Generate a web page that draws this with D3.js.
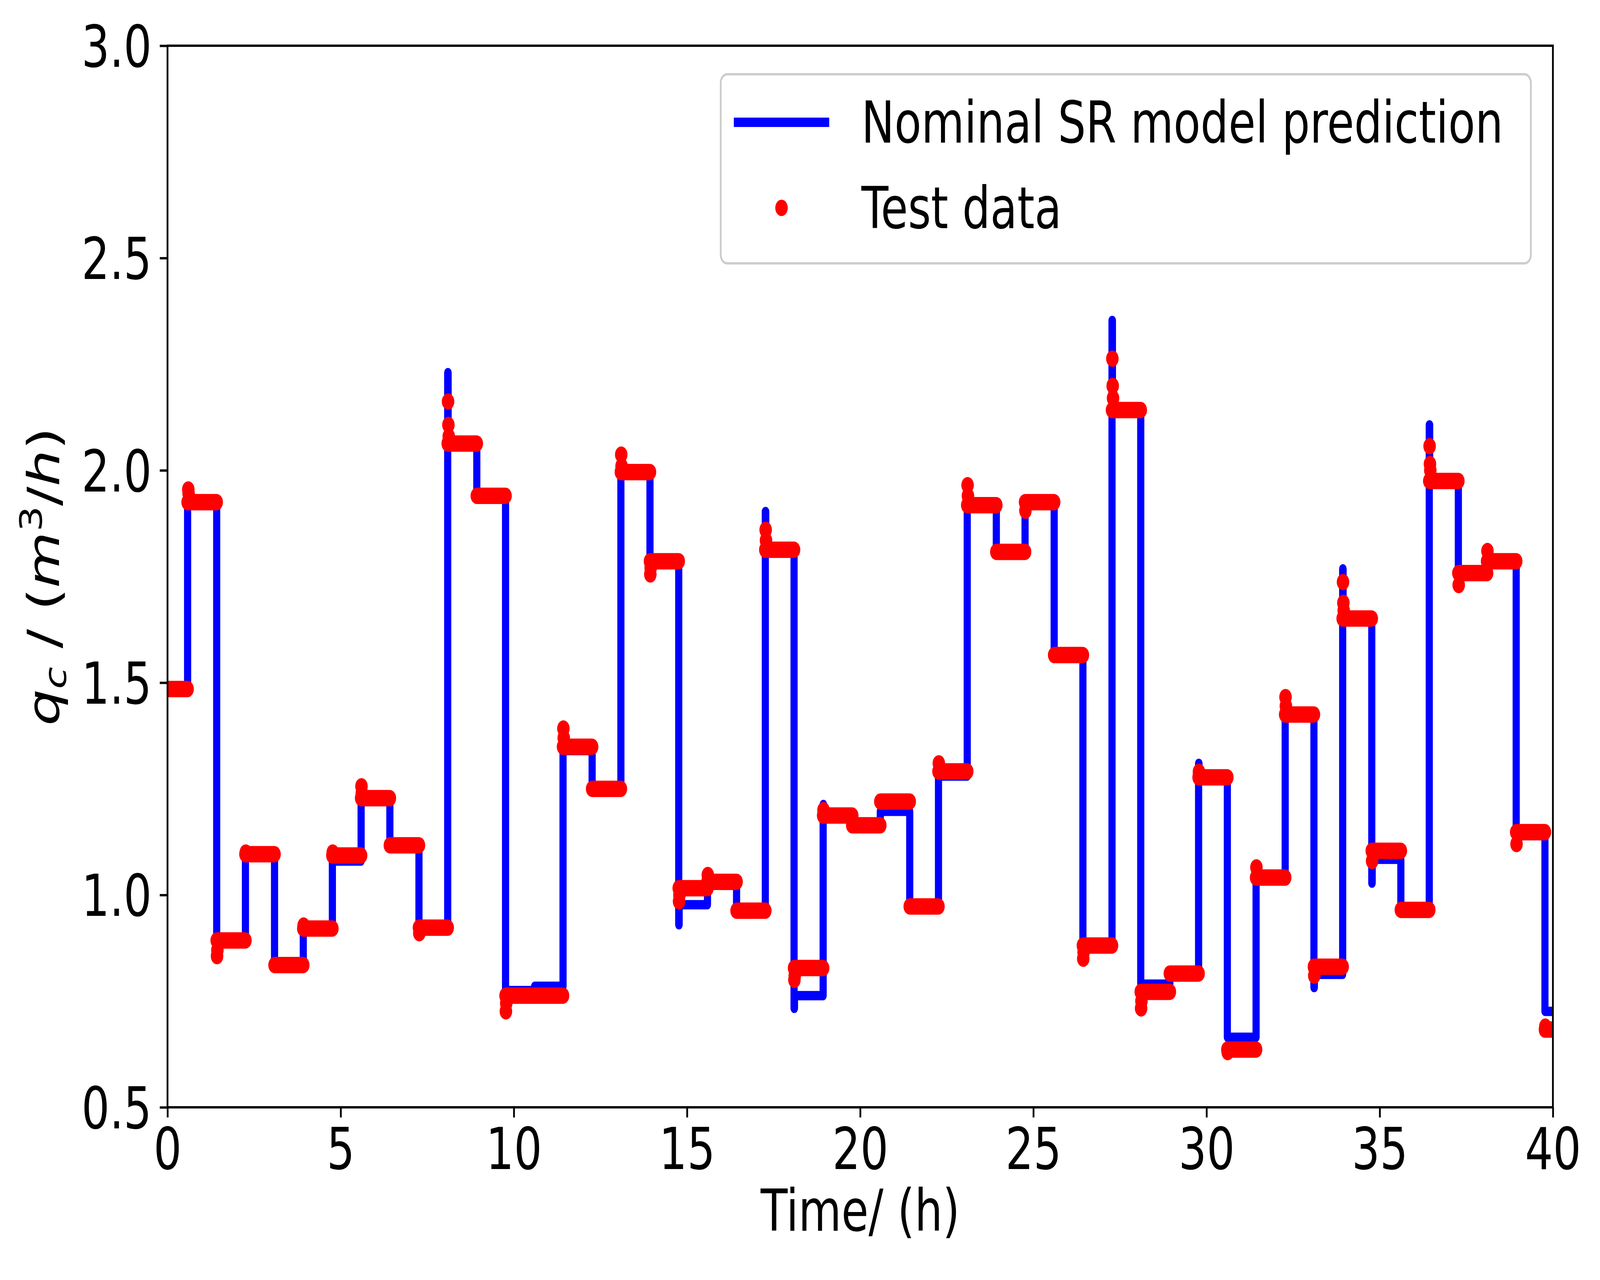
<!DOCTYPE html>
<html>
<head>
<meta charset="utf-8">
<script src="https://cdn.jsdelivr.net/npm/d3@7/dist/d3.min.js"></script>
<style>
  html, body { margin: 0; padding: 0; background: #fff; overflow: hidden; }
  svg { display: block; }
  text { font-family: "DejaVu Sans", sans-serif; }
</style>
</head>
<body>
<div class="root"></div>
<script>
// times (h) where the set point changes
const stepTimes = [0, 0.58, 1.42, 2.25, 3.09, 3.92, 4.76, 5.59, 6.42, 7.26, 8.09, 8.93, 9.76,
  10.60, 11.42, 12.26, 13.09, 13.93, 14.76, 15.59, 16.43, 17.26, 18.09, 18.93, 19.77, 20.58,
  21.43, 22.26, 23.09, 23.93, 24.76, 25.60, 26.43, 27.27, 28.10, 28.94, 29.77, 30.60, 31.43,
  32.27, 33.10, 33.93, 34.77, 35.61, 36.43, 37.27, 38.10, 38.94, 39.77];

// nominal SR model prediction, level held after each step
const modelLevels = [1.485, 1.925, 0.893, 1.096, 0.835, 0.920, 1.080, 1.220, 1.117, 0.923,
  2.065, 1.940, 0.775, 0.785, 1.340, 1.250, 2.000, 1.786, 0.977, 1.031, 0.963, 1.813, 0.763,
  1.188, 1.164, 1.197, 0.973, 1.280, 1.918, 1.808, 1.925, 1.565, 0.881, 2.142, 0.790, 0.815,
  1.275, 0.665, 1.041, 1.418, 0.813, 1.651, 1.084, 0.965, 1.975, 1.758, 1.786, 1.140, 0.726];

// over/undershoot of the model right at the step (null = none)
const modelPeaks = [null, null, null, null, null, null, null, null, null, null,
  2.230, null, null, null, null, null, null, null, 0.930, null, null, 1.903, 0.733,
  1.213, null, null, null, null, null, null, null, null, null, 2.353, null, null,
  1.310, null, null, null, 0.782, 1.768, 1.028, null, 2.107, null, null, null, null];

// test data, settled level on each interval
const testLevels = [1.485, 1.925, 0.893, 1.096, 0.835, 0.921, 1.093, 1.228, 1.117, 0.923,
  2.063, 1.940, 0.763, 0.763, 1.349, 1.250, 1.996, 1.786, 1.016, 1.031, 0.963, 1.813, 0.828,
  1.187, 1.164, 1.220, 0.973, 1.291, 1.918, 1.808, 1.925, 1.565, 0.881, 2.142, 0.772, 0.815,
  1.277, 0.636, 1.041, 1.425, 0.831, 1.651, 1.104, 0.965, 1.975, 1.758, 1.786, 1.148, 0.683];

// test data points off the plateaus, just after a step [time, value]
const testTransients = [
  [0.60, 1.955], [0.61, 1.945], [1.43, 0.856], [1.44, 0.870], [2.26, 1.100], [3.93, 0.928],
  [4.77, 1.100], [5.60, 1.256], [5.61, 1.240], [7.27, 0.910], [8.10, 2.162], [8.11, 2.107],
  [8.12, 2.080], [9.77, 0.726], [9.78, 0.745], [11.43, 1.392], [11.44, 1.370], [13.10, 2.037],
  [13.11, 2.010], [13.94, 1.755], [13.95, 1.770], [14.77, 0.985], [14.78, 1.000], [15.60, 1.047],
  [17.27, 1.860], [17.28, 1.835], [18.10, 0.800], [18.11, 0.810], [18.94, 1.200], [22.27, 1.310],
  [23.10, 1.965], [23.11, 1.940], [24.77, 1.905], [26.44, 0.850], [26.45, 0.865], [27.28, 2.263],
  [27.29, 2.199], [27.30, 2.170], [28.11, 0.733], [28.12, 0.750], [29.78, 1.290], [30.61, 0.630],
  [31.44, 1.065], [32.28, 1.466], [32.29, 1.445], [33.11, 0.810], [33.94, 1.737], [33.95, 1.688],
  [33.96, 1.670], [34.78, 1.080], [36.44, 2.057], [36.45, 2.015], [36.46, 2.000], [37.28, 1.730],
  [38.11, 1.810], [38.95, 1.120], [39.78, 0.690]];

const xTicks = [0, 5, 10, 15, 20, 25, 30, 35, 40];
const yTicks = [0.5, 1.0, 1.5, 2.0, 2.5, 3.0];
const tEnd = 40;

const svgWidth = 5368;
const svgHeight = 3276;
const fontSize = 148;

// the drawing is laid out at 5368x3276 and stretched to fill the window
const svg = d3.select('.root')
  .append('svg')
  .attr('viewBox', `0 0 ${svgWidth} ${svgHeight}`)
  .attr('preserveAspectRatio', 'none')
  .style('width', '100vw')
  .style('height', '100vh');

const margin = { top: 117, right: 158, bottom: 442, left: 562 };
const width = svgWidth - margin.left - margin.right;
const height = svgHeight - margin.top - margin.bottom;

const g = svg.append('g')
  .attr('transform', `translate(${margin.left}, ${margin.top})`);

const x = d3.scaleLinear().domain([0, 40]).range([0, width]);
const y = d3.scaleLinear().domain([0.5, 3.0]).range([height, 0]);

g.append('clipPath')
  .attr('id', 'plot-clip')
  .append('rect')
  .attr('width', width)
  .attr('height', height);

const plot = g.append('g').attr('clip-path', 'url(#plot-clip)');

// model: step-after path, with a one-sample spike where there is a peak
const modelPts = [];
stepTimes.forEach((t, i) => {
  if (modelPeaks[i] !== null) {
    modelPts.push([t, modelPeaks[i]]);
    modelPts.push([t + 0.012, modelLevels[i]]);
  } else {
    modelPts.push([t, modelLevels[i]]);
  }
});
modelPts.push([tEnd, modelLevels[modelLevels.length - 1]]);

const line = d3.line()
  .curve(d3.curveStepAfter)
  .x(d => x(d[0]))
  .y(d => y(d[1]));

plot.append('path')
  .attr('class', 'line')
  .attr('d', line(modelPts))
  .attr('fill', 'none')
  .attr('stroke', '#0000ff')
  .attr('stroke-width', 24)
  .attr('stroke-linejoin', 'round');

// test data: the samples are so dense they merge into a band
const dotR = 21;
const plateaus = testLevels.map((v, i) => ({
  t0: stepTimes[i],
  t1: i + 1 < stepTimes.length ? stepTimes[i + 1] : tEnd,
  v: v
}));

plot.selectAll('.plateau')
  .data(plateaus)
  .enter()
  .append('line')
  .attr('class', 'plateau')
  .attr('x1', d => x(d.t0))
  .attr('x2', d => x(d.t1))
  .attr('y1', d => y(d.v))
  .attr('y2', d => y(d.v))
  .attr('stroke', '#ff0000')
  .attr('stroke-width', dotR * 2)
  .attr('stroke-linecap', 'round');

plot.selectAll('.dot')
  .data(testTransients)
  .enter()
  .append('circle')
  .attr('class', 'dot')
  .attr('cx', d => x(d[0]))
  .attr('cy', d => y(d[1]))
  .attr('r', dotR)
  .attr('fill', '#ff0000');

// axes
const xAxis = g.append('g')
  .attr('transform', `translate(0, ${height})`)
  .call(d3.axisBottom(x).tickValues(xTicks).tickFormat(d3.format('d'))
    .tickSize(26).tickSizeOuter(0).tickPadding(27));

const yAxis = g.append('g')
  .call(d3.axisLeft(y).tickValues(yTicks).tickFormat(d3.format('.1f'))
    .tickSize(26).tickSizeOuter(0).tickPadding(27));

[xAxis, yAxis].forEach(ax => {
  ax.select('.domain').remove();
  ax.selectAll('.tick line').attr('stroke', '#000').attr('stroke-width', 6);
  ax.selectAll('.tick text')
    .attr('fill', '#000')
    .style('font-size', fontSize + 'px')
    .style('font-family', '"DejaVu Sans", sans-serif');
});
yAxis.selectAll('.tick text').attr('dy', '0.36em');

g.append('rect')
  .attr('width', width)
  .attr('height', height)
  .attr('fill', 'none')
  .attr('stroke', '#000')
  .attr('stroke-width', 6);

// axis labels
svg.append('text')
  .attr('x', margin.left + width / 2)
  .attr('y', 3150)
  .attr('text-anchor', 'middle')
  .style('font-size', fontSize + 'px')
  .text('Time/ (h)');

const yl = svg.append('text')
  .attr('transform', `translate(198, ${margin.top + height / 2}) rotate(-90)`)
  .attr('text-anchor', 'middle')
  .style('font-size', fontSize + 'px');
yl.append('tspan').attr('font-style', 'italic').text('q');
yl.append('tspan').attr('font-style', 'italic').attr('font-size', '70%').attr('dy', 24).text('c');
yl.append('tspan').attr('dy', -24).text('\u00a0/\u00a0(');
yl.append('tspan').attr('font-style', 'italic').text('m');
yl.append('tspan').attr('font-size', '70%').attr('dy', -58).text('3');
yl.append('tspan').attr('dy', 58).text('/');
yl.append('tspan').attr('font-style', 'italic').text('h');
yl.append('tspan').text(')');

// legend
const legend = svg.append('g');
legend.append('rect')
  .attr('x', 2418)
  .attr('y', 190)
  .attr('width', 5136 - 2418)
  .attr('height', 674 - 190)
  .attr('rx', 22)
  .attr('fill', '#fff')
  .attr('fill-opacity', 0.8)
  .attr('stroke', '#cccccc')
  .attr('stroke-width', 6);

legend.append('line')
  .attr('x1', 2474).attr('x2', 2770)
  .attr('y1', 313).attr('y2', 313)
  .attr('stroke', '#0000ff')
  .attr('stroke-width', 24)
  .attr('stroke-linecap', 'square');

legend.append('circle')
  .attr('cx', 2622).attr('cy', 532)
  .attr('r', dotR)
  .attr('fill', '#ff0000');

legend.append('text')
  .attr('x', 2890).attr('y', 365)
  .style('font-size', fontSize + 'px')
  .text('Nominal SR model prediction');

legend.append('text')
  .attr('x', 2890).attr('y', 584)
  .style('font-size', fontSize + 'px')
  .text('Test data');
</script>
</body>
</html>
